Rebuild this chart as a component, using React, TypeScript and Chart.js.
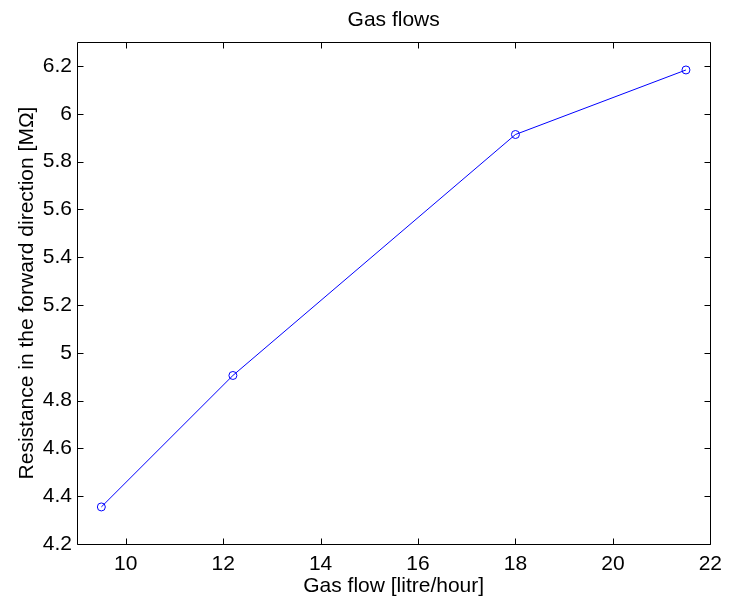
import React, { useEffect, useRef } from "react";
import { Chart, registerables } from "chart.js";

Chart.register(...registerables);

const gasFlow = [9.5, 12.2, 18, 21.5];
const resistance = [4.355, 4.905, 5.913, 6.183];
const xTicks = [10, 12, 14, 16, 18, 20, 22];
const yTicks = [4.2, 4.4, 4.6, 4.8, 5, 5.2, 5.4, 5.6, 5.8, 6, 6.2];
const titleText = "Gas flows";
const xLabel = "Gas flow [litre/hour]";
const yLabel = "Resistance in the forward direction [MΩ]";

const FONT = "21px 'Liberation Sans', Arial, Helvetica, sans-serif";

const framePlugin = {
  id: "matlabFrame",
  afterDraw(chart: any) {
    const ctx = chart.ctx;
    const { left, right, top, bottom } = chart.chartArea;
    const xs = chart.scales.x;
    const ys = chart.scales.y;
    ctx.save();
    ctx.strokeStyle = "#000";
    ctx.lineWidth = 1;
    const L = Math.round(left) + 0.5;
    const R = Math.round(right) + 0.5;
    const T = Math.round(top) + 0.5;
    const B = Math.round(bottom) + 0.5;
    ctx.beginPath();
    ctx.rect(L, T, R - L, B - T);
    ctx.stroke();
    const tl = 6;
    ctx.beginPath();
    for (const v of xTicks) {
      const px = Math.round(xs.getPixelForValue(v)) + 0.5;
      ctx.moveTo(px, B);
      ctx.lineTo(px, B - tl);
      ctx.moveTo(px, T);
      ctx.lineTo(px, T + tl);
    }
    for (const v of yTicks) {
      const py = Math.round(ys.getPixelForValue(v)) + 0.5;
      ctx.moveTo(L, py);
      ctx.lineTo(L + tl, py);
      ctx.moveTo(R, py);
      ctx.lineTo(R - tl, py);
    }
    ctx.stroke();

    ctx.fillStyle = "#000";
    ctx.font = FONT;
    ctx.textAlign = "center";
    ctx.textBaseline = "alphabetic";
    const cx = (left + right) / 2;
    ctx.fillText(titleText, cx, 26);
    ctx.fillText(xLabel, cx, 592);
    ctx.translate(33, (top + bottom) / 2);
    ctx.rotate(-Math.PI / 2);
    ctx.fillText(yLabel, 0, 0);
    ctx.restore();
  },
};

export default function App() {
  const ref = useRef<HTMLCanvasElement>(null);
  useEffect(() => {
    const canvas = ref.current;
    if (!canvas) return;
    const chart = new Chart(canvas, {
      type: "line",
      data: {
        datasets: [
          {
            data: gasFlow.map((x, i) => ({ x, y: resistance[i] })),
            borderColor: "#0000ff",
            borderWidth: 1,
            pointRadius: 4,
            pointHoverRadius: 4,
            pointStyle: "circle",
            pointBackgroundColor: "rgba(0,0,0,0)",
            pointBorderColor: "#0000ff",
            pointBorderWidth: 1,
            tension: 0,
            fill: false,
          },
        ],
      },
      options: {
        animation: false,
        responsive: false,
        devicePixelRatio: 1,
        layout: { padding: { left: 0, right: 16, top: 42, bottom: 0 } },
        plugins: {
          legend: { display: false },
          title: { display: false },
          tooltip: { enabled: false },
        },
        scales: {
          x: {
            type: "linear",
            min: 9,
            max: 22,
            grid: { display: false, drawTicks: false },
            border: { display: false },
            afterBuildTicks: (s: any) => {
              s.ticks = xTicks.map((v) => ({ value: v }));
            },
            afterFit: (s: any) => {
              s.height = 57;
            },
            ticks: {
              padding: 8,
              color: "#000",
              maxRotation: 0,
              autoSkip: false,
              font: { family: "'Liberation Sans', Arial, Helvetica, sans-serif", size: 21 },
              callback: (v: any) => String(Number(Number(v).toFixed(1))),
            },
          },
          y: {
            type: "linear",
            min: 4.2,
            max: 6.3,
            grid: { display: false, drawTicks: false },
            border: { display: false },
            afterBuildTicks: (s: any) => {
              s.ticks = yTicks.map((v) => ({ value: v }));
            },
            afterFit: (s: any) => {
              s.width = 77;
            },
            ticks: {
              padding: 5,
              color: "#000",
              autoSkip: false,
              font: { family: "'Liberation Sans', Arial, Helvetica, sans-serif", size: 21 },
              callback: (v: any) => String(Number(Number(v).toFixed(1))),
            },
          },
        },
      },
      plugins: [framePlugin],
    } as any);
    return () => chart.destroy();
  }, []);
  return (
    <div style={{ position: "fixed", left: 0, top: 0, width: 730, height: 601, background: "#fff" }}>
      <canvas ref={ref} width={730} height={601} style={{ display: "block", width: 730, height: 601 }} />
    </div>
  );
}
